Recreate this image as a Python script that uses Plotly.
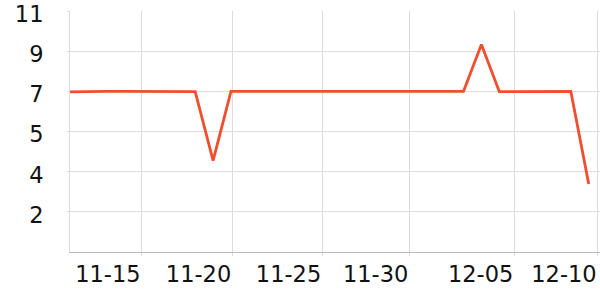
import plotly.graph_objects as go

# data
dates = ["11-11", "11-12", "11-13", "11-14", "11-15", "11-16", "11-17", "11-18", "11-19", "11-20",
         "11-21", "11-22", "11-23", "11-24", "11-25", "11-26", "11-27", "11-28", "11-29", "11-30",
         "12-01", "12-02", "12-03", "12-04", "12-05", "12-06", "12-07", "12-08", "12-09", "12-10"]
values = [7.18, 7.2, 7.2, 7.2, 7.2, 7.2, 7.2, 7.19, 4.1, 7.2,
          7.2, 7.2, 7.2, 7.19, 7.19, 7.19, 7.2, 7.2, 7.2, 7.2,
          7.19, 7.19, 7.2, 9.3, 7.19, 7.19, 7.2, 7.2, 7.2, 3.05]
idx = list(range(len(dates)))

# axis ticks
x_tick_pos = [4, 9.07, 14.1, 18.97, 24.84, 29.5]
x_tick_text = ["11-15", "11-20", "11-25", "11-30", "12-05", "12-10"]
y_tick_vals = [1.8, 3.6, 5.4, 7.2, 9.0, 10.8]

fig = go.Figure()
fig.add_trace(go.Scatter(x=idx, y=values, mode="lines",
                         line=dict(color="#F04E2F", width=2.8),
                         hoverinfo="skip", showlegend=False))

fig.update_layout(
    width=600, height=300,
    margin=dict(l=70, r=0, t=11, b=48),
    paper_bgcolor="white", plot_bgcolor="white",
    font=dict(family="DejaVu Sans", size=22.5, color="#111"),
)
fig.update_xaxes(
    range=[0, 29.63],
    automargin=False,
    tickvals=x_tick_pos, ticktext=x_tick_text,
    ticklabelposition="outside left",
    ticklabelstandoff=2,
    ticklabeloverflow="allow",
    showgrid=True, gridcolor="#dcdcdc", gridwidth=1,
    showline=True, linecolor="#bbbbbb", linewidth=1,
    ticks="outside", ticklen=3, tickcolor="#dcdcdc",
    zeroline=False,
)
fig.update_yaxes(
    range=[0, 10.802],
    automargin=False,
    tickvals=y_tick_vals, tickformat=".0f",
    showgrid=True, gridcolor="#dcdcdc", gridwidth=1,
    showline=True, linecolor="#dcdcdc", linewidth=1,
    ticks="outside", ticklen=2, tickcolor="#dcdcdc",
    ticklabelstandoff=19,
    ticklabelshift=3,
    ticklabeloverflow="allow",
    zeroline=False,
)

fig.write_html("out.html")
